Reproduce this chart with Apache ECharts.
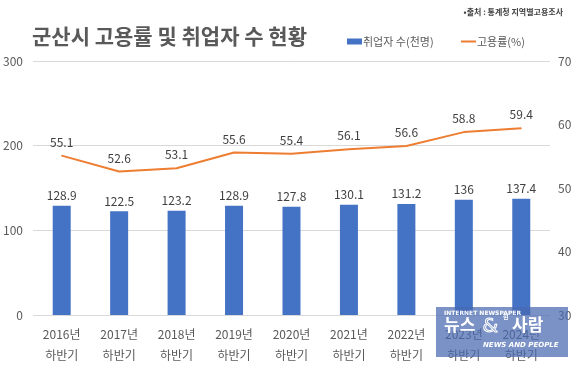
<!DOCTYPE html>
<html><head><meta charset="utf-8">
<script src="https://cdn.jsdelivr.net/npm/echarts@6/dist/echarts.min.js"></script>
<style>html,body{margin:0;padding:0;background:#fff}#c{width:580px;height:366px}</style>
</head><body><div id="c"></div>
<script>
const categories = ['2016년\n하반기','2017년\n하반기','2018년\n하반기','2019년\n하반기','2020년\n하반기','2021년\n하반기','2022년\n하반기','2023년\n하반기','2024년\n하반기'];
const employed = [128.9,122.5,123.2,128.9,127.8,130.1,131.2,136,137.4];
const employmentRate = [55.1,52.6,53.1,55.6,55.4,56.1,56.6,58.8,59.4];
const leftTicks = [0,100,200,300];
const rightTicks = [30,40,50,60,70];
const FONT = '"Noto Sans CJK KR","Noto Sans",sans-serif';

const chart = echarts.init(document.getElementById('c'));
chart.setOption({
  animation:false,
  textStyle:{fontFamily:FONT},
  title:[{text:'군산시 고용률 및 취업자 수 현황',left:27,top:21,textStyle:{fontSize:21,fontWeight:'bold',color:'#595959',fontFamily:FONT}},
         {text:'•출처 : 통계청 지역별고용조사',right:12,top:3,textStyle:{fontSize:8,fontWeight:'bold',color:'#404040',fontFamily:FONT}}],
  legend:[
    {left:342,top:31,itemWidth:15,itemHeight:6,textStyle:{fontSize:11,color:'#595959',padding:[0,0,0,-4]},
      data:[{name:'취업자 수(천명)',icon:'rect'}]},
    {left:456,top:31,itemWidth:15,itemHeight:2,textStyle:{fontSize:11,color:'#595959',padding:[0,0,0,-4]},
      data:[{name:'고용률(%)',icon:'rect'}]}
  ],
  grid:{left:30,right:30,top:61,bottom:48,containLabel:false},
  xAxis:{type:'category',data:categories,axisLine:{show:false},axisTick:{show:false},
    axisLabel:{color:'#595959',fontSize:12,lineHeight:21,margin:9}},
  yAxis:[{type:'value',min:0,max:300,interval:100,splitLine:{lineStyle:{color:'#D9D9D9'}},
    axisLabel:{color:'#595959',fontSize:12,margin:10}},
    {type:'value',min:30,max:70,interval:10,splitLine:{show:false},axisLabel:{color:'#595959',fontSize:12,margin:8}}],
  series:[
    {name:'취업자 수(천명)',type:'bar',data:employed,barWidth:18,itemStyle:{color:'#4472C4'},
      label:{show:true,position:'top',distance:4,color:'#404040',fontSize:12}},
    {name:'고용률(%)',type:'line',yAxisIndex:1,data:employmentRate,symbol:'circle',symbolSize:1,showSymbol:true,
      lineStyle:{color:'#ED7D31',width:2},itemStyle:{color:'#ED7D31'},
      label:{show:true,position:'top',distance:7,color:'#404040',fontSize:12}}
  ],
  graphic:[
    {type:'rect',left:436,top:307,shape:{width:132,height:50},style:{fill:'rgba(72,104,176,0.72)'},z:100},
    {type:'text',left:444,top:310,style:{text:'INTERNET NEWSPAPER',fill:'#fff',font:'bold 6px "DejaVu Sans"'},z:101},
    {type:'text',left:444,top:316,style:{text:'뉴스',fill:'#fff',font:'bold 17px "Noto Sans CJK KR"'},z:101},
    {type:'text',left:482,top:316,style:{text:'&',fill:'rgba(255,255,255,0)',stroke:'#fff',lineWidth:1,font:'20px "DejaVu Sans"'},z:101},
    {type:'text',left:503,top:314,style:{text:'현',fill:'#fff',font:'bold 6px "Noto Sans CJK KR"'},z:101},
    {type:'text',left:512,top:316,style:{text:'사람',fill:'#fff',font:'bold 17px "Noto Sans CJK KR"'},z:101},
    {type:'text',left:483,top:342,style:{text:'NEWS AND PEOPLE',fill:'#fff',font:'italic bold 7px "DejaVu Sans"'},z:101}
  ]
});
</script></body></html>
